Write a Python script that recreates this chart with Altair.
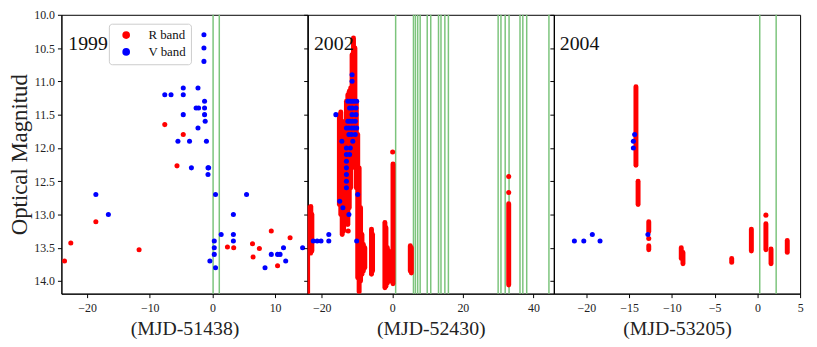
import altair as alt
import pandas as pd

FONT = "Liberation Serif"
Y_TICKS = [10.0, 10.5, 11.0, 11.5, 12.0, 12.5, 13.0, 13.5, 14.0]
Y_DOMAIN = [10.0, 14.19]

# ---------------- 1999 (MJD-51438) ----------------
r99_x = [-23.6, -22.6, -18.6, -11.7, -7.6, -4.65, -5.65, 2.4, 3.4, 6.4, 6.5, 7.5, 9.4, 10.4, 12.4]
r99_y = [13.70, 13.43, 13.11, 13.53, 11.65, 11.80, 12.27, 13.49, 13.50, 13.44, 13.64, 13.51, 13.25, 13.77, 13.35]
v99_x = [-18.6, -16.6, -7.6, -6.6, -4.65, -4.65, -4.65, -5.5, -3.65, -3.35, -2.3, -2.6, -2.2, -2.3,
         -1.35, -1.35, -1.35, -1.25, -1.25, -1.25, -1.15, -0.95, -0.7, -0.6, -0.7, -0.4, 0.3, 0.3, 0.3,
         0.5, 0.5, 1.4, 3.35, 3.35, 3.35, 5.45, 8.4, 9.4, 10.4, 10.8, 11.35, 11.7, 14.4]
v99_y = [12.7, 13.0, 11.2, 11.2, 11.1, 11.2, 11.5, 11.9, 11.9, 12.3, 11.1, 11.4, 11.4, 11.7,
         10.3, 10.5, 10.7, 11.3, 11.4, 11.5, 11.6, 11.9, 12.3, 12.3, 12.4, 13.7, 13.4, 13.5, 13.6,
         12.7, 13.8, 13.3, 13.0, 13.3, 13.4, 12.7, 13.8, 13.6, 13.6, 13.6, 13.5, 13.7, 13.5]
lines99 = [0.11, 1.1]

# ---------------- 2002 (MJD-52430) ----------------
rs02_x = [-24.0, -23.1, -22.8,
          -15.0, -14.6, -14.2, -13.8, -13.4, -13.0, -12.6, -12.2, -11.8, -11.4, -11.0, -10.6, -10.2,
          -9.8, -9.4, -9.0, -8.6, -8.2, -7.8,
          -5.9, -5.6, -2.1, -1.8, -1.4, -1.0, -0.6, 0.2, 5.1, 5.4, 33.0]
rs02_y1 = [12.9, 12.88, 13.0,
           11.5, 11.46, 12.0, 11.8, 11.6, 11.3, 11.2, 11.15, 11.1, 10.6, 10.35, 10.5, 11.3,
           11.8, 12.3, 12.9, 13.3, 13.45, 13.5,
           13.22, 13.3, 13.12, 13.2, 13.5, 13.55, 13.6, 12.24, 13.47, 13.5, 12.84]
rs02_y2 = [14.25, 13.58, 13.55,
           12.85, 13.0, 13.3, 13.25, 13.15, 13.1, 13.15, 12.9, 12.6, 12.3, 12.1, 12.2, 12.6,
           13.95, 14.16, 14.0, 13.9, 13.85, 13.8,
           13.9, 13.85, 14.1, 14.08, 14.03, 14.0, 14.0, 14.04, 13.85, 13.88, 14.06]
rp02_x = [0.1, 33.0, 33.0, -12.5]
rp02_y = [12.06, 12.43, 12.67, 13.25]
v02_x = [-16.0, -11.4, -11.4, -12.6, -11.9, -11.4, -10.8, -10.1, -12.1, -11.4, -10.3, -11.4, -10.3,
         -12.6, -12.0, -11.3, -10.5, -13.0, -12.3, -11.5, -10.8, -10.1, -12.3, -11.5, -10.5,
         -14.3, -11.2, -13.0, -11.9, -13.0, -12.1, -13.0, -13.0, -13.0, -13.0, -13.0,
         -9.8, -14.9, -14.0, -12.3, -10.1, -22.4, -21.3, -20.2, -18.0, -18.0]
v02_y = [11.5, 10.9, 11.0, 11.3, 11.3, 11.3, 11.3, 11.3, 11.4, 11.4, 11.4, 11.5, 11.5,
         11.6, 11.6, 11.6, 11.6, 11.7, 11.7, 11.7, 11.7, 11.7, 11.8, 11.8, 11.8,
         11.9, 11.9, 12.0, 12.0, 12.1, 12.1, 12.2, 12.3, 12.4, 12.5, 12.6,
         12.7, 12.8, 12.9, 13.0, 13.4, 13.4, 13.4, 13.4, 13.3, 13.4]
lines02 = [0.95, 6.0, 6.55, 7.2, 7.9, 9.9, 10.9, 13.1, 13.8, 14.9, 15.9,
           30.0, 30.8, 32.0, 33.1, 36.2, 37.0, 38.1, 44.4]

# ---------------- 2004 (MJD-53205) ----------------
rs04_x = [-14.2, -13.95, -12.7, -12.7, -8.9, -8.7, -3.0, -0.7, 1.0, 1.6, 3.5]
rs04_y1 = [11.08, 12.5, 13.11, 13.47, 13.5, 13.57, 13.66, 13.22, 13.14, 13.52, 13.39]
rs04_y2 = [12.26, 12.85, 13.26, 13.53, 13.66, 13.74, 13.72, 13.55, 13.53, 13.74, 13.57]
rp04_x = [-12.7, 1.0]
rp04_y = [13.36, 13.01]
v04_x = [-21.4, -20.3, -19.3, -18.4, -14.35, -14.5, -14.5, -12.8]
v04_y = [13.4, 13.4, 13.3, 13.4, 11.8, 11.9, 12.0, 13.3]
lines04 = [0.28, 2.2]

years = ["1999", "2002", "2004"]
year_x = [-23.0, -22.2, -23.1]
year_y = [10.44, 10.44, 10.44]
x_titles = ["(MJD-51438)", "(MJD-52430)", "(MJD-53205)"]
x_domains = [[-24.1, 15.2], [-24.0, 45.8], [-23.8, 5.0]]
x_ticks = [[-20, -10, 0, 10], [-20, 0, 20, 40], [-20, -15, -10, -5, 0, 5]]

W, H = 249, 282
RED, BLUE, GREEN = "#ff0000", "#0000ff", "#7cc47c"


def xy(i):
    xs = alt.Scale(domain=x_domains[i], nice=False, zero=False)
    ys = alt.Scale(domain=Y_DOMAIN, reverse=True, nice=False, zero=False)
    xa = alt.Axis(values=x_ticks[i], title=x_titles[i], format="d", labelFlush=False,
                  labelPadding=5)
    if i == 0:
        ya = alt.Axis(values=Y_TICKS, format=".1f", title="Optical Magnitud",
                      titleFontSize=23, titlePadding=2)
    else:
        ya = alt.Axis(values=Y_TICKS, labels=False, title=None)
    return (alt.X("x:Q", scale=xs, axis=xa), alt.Y("y:Q", scale=ys, axis=ya))


def vlines(i, vals):
    X, _ = xy(i)
    return alt.Chart(pd.DataFrame({"x": vals})).mark_rule(
        color=GREEN, strokeWidth=1.5).encode(x=X)


def streaks(i, xs, y1, y2):
    X, Y = xy(i)
    return alt.Chart(pd.DataFrame({"x": xs, "y": y1, "y2": y2})).mark_rule(
        color=RED, strokeWidth=5, strokeCap="round", clip=True).encode(x=X, y=Y, y2="y2:Q")


def dots(i, xs, ys, color):
    X, Y = xy(i)
    return alt.Chart(pd.DataFrame({"x": xs, "y": ys})).mark_circle(
        color=color, size=26, opacity=1, clip=True).encode(x=X, y=Y)


def label(i):
    X, Y = xy(i)
    return alt.Chart(pd.DataFrame({"x": [year_x[i]], "y": [year_y[i]], "t": [years[i]]})).mark_text(
        align="left", baseline="middle", font=FONT, fontSize=20, color="#111").encode(x=X, y=Y, text="t:N")


# panel 1 with legend
X0, Y0 = xy(0)
df99 = pd.DataFrame({
    "x": r99_x + v99_x,
    "y": r99_y + v99_y,
    "band": ["R band"] * len(r99_x) + ["V band"] * len(v99_x),
})
pts99 = alt.Chart(df99).mark_circle(size=26, opacity=1).encode(
    x=X0, y=Y0,
    color=alt.Color("band:N", scale=alt.Scale(domain=["R band", "V band"], range=[RED, BLUE]),
                    legend=alt.Legend(orient="none", legendX=48, legendY=9, title=None,
                                      symbolType="circle", symbolSize=60, symbolOpacity=1,
                                      symbolStrokeWidth=0,
                                      labelFont=FONT, labelFontSize=13, labelColor="#111",
                                      padding=5, rowPadding=3, symbolOffset=6, labelOffset=16,
                                      strokeColor="#cccccc", fillColor="white", cornerRadius=3)),
)
p1 = alt.layer(vlines(0, lines99), pts99, label(0)).properties(width=W, height=H)

p2 = alt.layer(
    vlines(1, lines02),
    streaks(1, rs02_x, rs02_y1, rs02_y2),
    dots(1, rp02_x, rp02_y, RED),
    dots(1, v02_x, v02_y, BLUE),
    label(1),
).properties(width=W, height=H)

p3 = alt.layer(
    vlines(2, lines04),
    streaks(2, rs04_x, rs04_y1, rs04_y2),
    dots(2, rp04_x, rp04_y, RED),
    dots(2, v04_x, v04_y, BLUE),
    label(2),
).properties(width=W, height=H)

chart = alt.hconcat(p1, p2, p3, spacing=0, bounds="flush").resolve_legend(
    color="independent").properties(
    padding={"left": 0, "top": -2, "right": 5, "bottom": 0}
).configure_view(stroke="black", strokeWidth=1).configure_axis(
    grid=False, domainColor="black", tickColor="black", tickSize=4,
    labelFont=FONT, labelFontSize=12, labelColor="#222", labelPadding=3,
    titleFont=FONT, titleFontSize=20, titleFontWeight="normal", titleColor="#222",
    titlePadding=5,
)

chart.save("out.html", embed_options={"renderer": "svg", "actions": False})
